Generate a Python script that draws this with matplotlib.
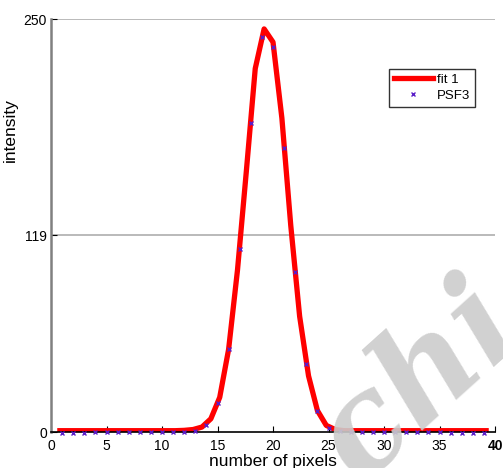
import matplotlib
matplotlib.use("Agg")
import matplotlib.pyplot as plt

plt.rcParams["font.family"] = ["Liberation Sans", "DejaVu Sans"]

# PSF3 measured points
psf_x = list(range(1, 40))
psf_y = [-0.5, -0.5, -0.3, 0.3, 0.3, 0.2, 0.2, 0.2, 0.2, 0.3, 0.2, 0.2, 0.5,
         4.5, 17.5, 50, 111, 187, 239, 233, 172, 97, 41, 13, 2.5, 0.5,
         0.2, 0.2, 0.2, 0.3, 0.3, 0.3, 0.2, 0.2, 0.3, -0.5, -0.5, -0.5, -0.5]

# fit 1 curve
fit_x = [round(0.8 * i, 1) for i in range(1, 50)]
fit_y = [0.8, 0.8, 0.8, 0.8, 0.8, 0.8, 0.8, 0.8, 0.8, 0.8, 0.8, 0.8, 0.8, 0.8,
         1, 1.5, 3, 8, 21, 50, 98, 158, 220, 244, 236, 190, 125, 70, 34, 13,
         4, 1.5, 0.8, 0.8, 0.8, 0.8, 0.8, 0.8, 0.8, 0.8, 0.8, 0.8, 0.8, 0.8,
         0.8, 0.8, 0.8, 0.8, 0.8]

x_ticks = [0, 5, 10, 15, 20, 25, 30, 35, 40]
y_ticks = [0, 119, 250]

fig = plt.figure(figsize=(5.03, 4.68), dpi=100)
ax = fig.add_axes([0.1014, 0.0769, 0.8827, 0.8825])

for yv in y_ticks[1:]:
    ax.axhline(yv, color="#b4b4b4", lw=1.3, zorder=0)

ax.plot(fit_x, fit_y, color="#ff0000", lw=3.8, label="fit 1", zorder=2)
ax.plot(psf_x, psf_y, ls="none", marker="x", ms=3.5, mew=1.0,
        color="#5a1ec8", label="PSF3", zorder=3, clip_on=False)

ax.set_xlim(0, 40)
ax.set_ylim(0, 250)
ax.set_xticks(x_ticks)
ax.set_yticks(y_ticks)
ax.tick_params(direction="in", length=4, labelsize=10)
ax.tick_params(axis="x", pad=5)
ax.tick_params(axis="y", pad=3)
ax.get_xticklabels()[-1].set_fontweight("bold")

ax.spines["top"].set_visible(False)
ax.spines["right"].set_visible(False)
ax.spines["left"].set_color("#808080")
ax.spines["left"].set_linewidth(1.8)
ax.spines["bottom"].set_color("#000000")
ax.spines["bottom"].set_linewidth(1.2)

ax.set_xlabel("number of pixels", fontsize=12.5, labelpad=1)
ax.set_ylabel("intensity", fontsize=12.5)
ax.yaxis.set_label_coords(-0.075, 0.73)

leg = ax.legend(loc="upper left", bbox_to_anchor=(0.761, 0.879), fontsize=9.5,
                frameon=True, fancybox=False, handlelength=3.0,
                borderpad=0.35, labelspacing=0.3, handletextpad=0.3,
                borderaxespad=0)
leg.get_frame().set_edgecolor("black")
leg.get_frame().set_linewidth(1.0)

fig.text(0.58, -0.02, "chi", fontsize=95, family="DejaVu Serif",
         fontweight="bold", style="italic", color="#cccccc", rotation=42,
         alpha=0.9, zorder=10)

fig.savefig("out.png", dpi=100)
